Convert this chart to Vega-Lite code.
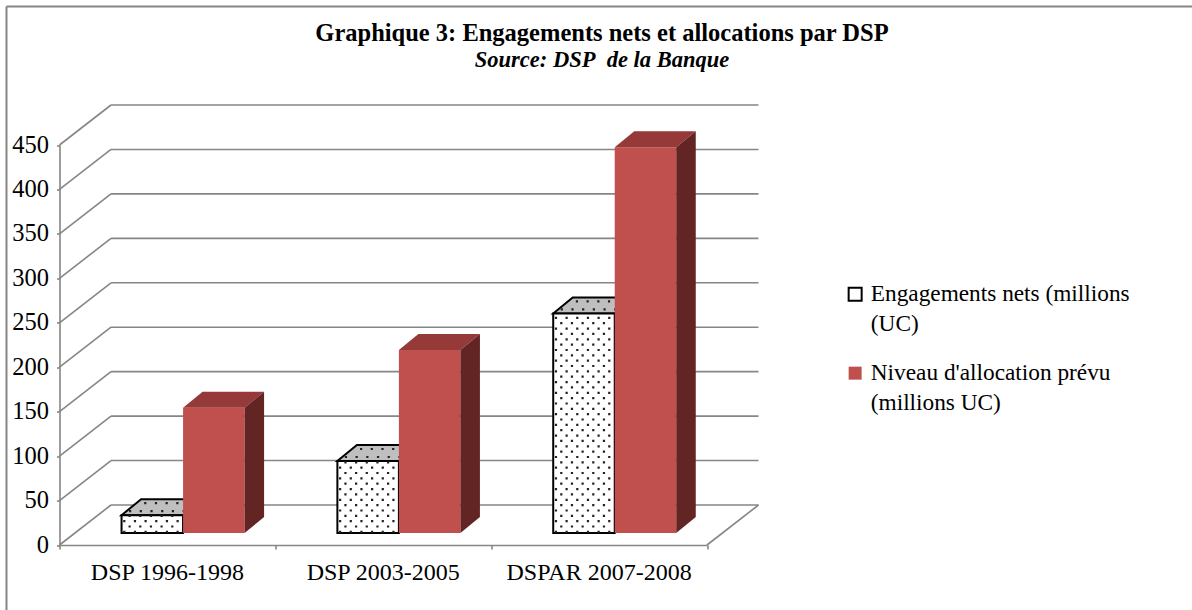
{
"$schema":"https://vega.github.io/schema/vega-lite/v6.json",
"width":1184,"height":600,
"autosize":{"type":"none"},
"padding":{"left":6.5,"top":6.5,"right":1.5,"bottom":3.5},
"background":"white",
"view":{"stroke":null,"fill":"white"},
"title":{"text":"Graphique 3: Engagements nets et allocations par DSP","subtitle":"Source: DSP\u00a0 de la Banque","anchor":"middle","frame":"group","dx":3.5,"offset":-67,"font":"Liberation Serif","fontSize":24.5,"fontWeight":"bold","color":"black","subtitleFont":"Liberation Serif","subtitleFontSize":22.5,"subtitleFontWeight":"bold","subtitleFontStyle":"italic","subtitleColor":"black","subtitlePadding":3},
"datasets":{
"barres":[
{"dsp":"DSP 1996-1998","serie":"Engagements nets (millions (UC)","valeur":20},
{"dsp":"DSP 1996-1998","serie":"Niveau d'allocation prévu (millions UC)","valeur":141},
{"dsp":"DSP 2003-2005","serie":"Engagements nets (millions (UC)","valeur":81},
{"dsp":"DSP 2003-2005","serie":"Niveau d'allocation prévu (millions UC)","valeur":206},
{"dsp":"DSPAR 2007-2008","serie":"Engagements nets (millions (UC)","valeur":247},
{"dsp":"DSPAR 2007-2008","serie":"Niveau d'allocation prévu (millions UC)","valeur":434}],
"graduations":[{"g":0},{"g":50},{"g":100},{"g":150},{"g":200},{"g":250},{"g":300},{"g":350},{"g":400},{"g":450}]
},
"data":{"name":"barres"},
"transform":[
{"calculate":"indexof(['DSP 1996-1998','DSP 2003-2005','DSPAR 2007-2008'],datum.dsp)","as":"rang"},
{"calculate":"datum.rang+0.2875+(datum.serie[0]=='N'?0.285:0)","as":"gauche"},
{"calculate":"datum.gauche+0.285","as":"droite"},
{"calculate":"datum.valeur+13.5","as":"haut"},
{"calculate":"13.5","as":"bas"}
],
"layer":[
{"data":{"name":"graduations"},"mark":{"type":"rule","color":"#868686","strokeWidth":1.6,"x2Offset":51.5,"y2Offset":-40},
 "encoding":{"x":{"datum":0,"type":"quantitative","scale":{"domain":[0,3],"range":[53,700.5],"nice":false,"zero":false},"axis":{"values":[0,1,2,3],"labels":false,"title":null,"grid":false,"tickSize":4,"tickColor":"#868686","tickWidth":1.6,"domainColor":"#868686","domainWidth":1.6,"offset":-61.5}},"x2":{"datum":0},
 "y":{"field":"g","type":"quantitative","scale":{"domain":[0,450],"range":[538.5,138.5],"nice":false,"zero":false},"axis":{"values":[0,50,100,150,200,250,300,350,400,450],"title":null,"grid":false,"tickSize":3,"tickColor":"#868686","tickWidth":1.6,"domainColor":"#868686","domainWidth":1.6,"offset":-53,"labelFont":"Liberation Serif","labelFontSize":24.5,"labelColor":"black","labelPadding":8}},"y2":{"field":"g"}}},
{"data":{"name":"graduations"},"transform":[{"filter":"datum.g==0"}],"mark":{"type":"rule","color":"#868686","strokeWidth":2},
 "encoding":{"x":{"datum":-0.2456,"type":"quantitative"},"y":{"datum":-75,"type":"quantitative"},"y2":{"datum":605.8}}},
{"data":{"name":"graduations"},"transform":[{"filter":"datum.g==0"}],"mark":{"type":"rule","color":"#868686","strokeWidth":2},
 "encoding":{"x":{"datum":-0.2456,"type":"quantitative"},"x2":{"datum":5.3},"y":{"datum":605.8,"type":"quantitative"}}},
{"data":{"name":"graduations"},"transform":[{"filter":"datum.g==0"}],"mark":{"type":"rule","color":"#868686","strokeWidth":1.6,"x2Offset":51.5,"y2Offset":-40},
 "encoding":{"x":{"datum":3,"type":"quantitative"},"x2":{"datum":3},"y":{"field":"g","type":"quantitative"},"y2":{"field":"g"}}},
{"data":{"name":"graduations"},"mark":{"type":"rule","color":"#868686","strokeWidth":1.6,"xOffset":51.5,"x2Offset":51.5,"yOffset":-40},
 "encoding":{"x":{"datum":0,"type":"quantitative"},"x2":{"datum":3},"y":{"field":"g","type":"quantitative"}}},
{"transform":[{"filter":"datum.serie[0]=='E'"},{"calculate":"[0,1]","as":"prof"},{"flatten":["prof"]},{"calculate":"datum.gauche+datum.prof*0.0904","as":"xa"},{"calculate":"datum.droite+datum.prof*0.0904","as":"xb"},{"calculate":"datum.haut+datum.prof*18","as":"yh"}],
 "mark":{"type":"area","orient":"horizontal","fill":"#BFBFBF","stroke":"black","strokeWidth":2},
 "encoding":{"x":{"field":"xa","type":"quantitative"},"x2":{"field":"xb"},"y":{"field":"yh","type":"quantitative"},"detail":{"field":"dsp"}}},
{"transform":[{"filter":"datum.serie[0]=='E'"},{"calculate":"[0.25,0.75]","as":"prof"},{"flatten":["prof"]},{"calculate":"datum.gauche+datum.prof*0.0904+0.012+(datum.prof>0.5?0.025:0)","as":"xa"},{"calculate":"datum.droite+datum.prof*0.0904","as":"xb"},{"calculate":"datum.haut+datum.prof*18","as":"yh"}],
 "mark":{"type":"rule","color":"#222222","strokeWidth":2.2,"strokeDash":[2.2,8.5]},
 "encoding":{"x":{"field":"xa","type":"quantitative"},"x2":{"field":"xb"},"y":{"field":"yh","type":"quantitative"}}},
{"mark":{"type":"rect","strokeWidth":2},
 "encoding":{"x":{"field":"gauche","type":"quantitative"},"x2":{"field":"droite"},"y":{"field":"haut","type":"quantitative"},"y2":{"field":"bas"},
 "fill":{"field":"serie","type":"nominal","scale":{"domain":["Engagements nets (millions (UC)","Niveau d'allocation prévu (millions UC)"],"range":["white","#C0504D"]},"legend":{"title":null,"orient":"none","legendX":837,"legendY":276,"symbolType":"square","symbolSize":169,"symbolStrokeWidth":2,"labelFont":"Liberation Serif","labelFontSize":23.3,"labelColor":"black","labelBaseline":"top","labelOffset":4,"rowPadding":25,"labelLimit":400,"labelExpr":"datum.label[0]=='E'?['Engagements nets (millions','(UC)']:['Niveau d\\'allocation prévu','(millions UC)']","encoding":{"labels":{"lineHeight":{"value":30},"dy":{"value":-11}}}}},
 "stroke":{"field":"serie","type":"nominal","scale":{"domain":["Engagements nets (millions (UC)","Niveau d'allocation prévu (millions UC)"],"range":["black","transparent"]}}}},
{"transform":[{"filter":"datum.serie[0]=='E'"},{"calculate":"[1,3,5,7,9,11]","as":"k"},{"flatten":["k"]},{"calculate":"datum.gauche+datum.k*0.0247-0.012","as":"xa"}],
 "mark":{"type":"rule","color":"#222222","strokeWidth":2.2,"strokeDash":[2.2,8.5]},
 "encoding":{"x":{"field":"xa","type":"quantitative"},"y":{"field":"bas","type":"quantitative"},"y2":{"field":"haut"}}},
{"transform":[{"filter":"datum.serie[0]=='E'"},{"calculate":"[2,4,6,8,10]","as":"k"},{"flatten":["k"]},{"calculate":"datum.gauche+datum.k*0.0247-0.012","as":"xa"}],
 "mark":{"type":"rule","color":"#222222","strokeWidth":2.2,"strokeDash":[2.2,8.5],"strokeDashOffset":5.3},
 "encoding":{"x":{"field":"xa","type":"quantitative"},"y":{"field":"bas","type":"quantitative"},"y2":{"field":"haut"}}},
{"transform":[{"filter":"datum.serie[0]=='N'"},{"calculate":"[0,1]","as":"prof"},{"flatten":["prof"]},{"calculate":"datum.gauche+datum.prof*0.0904","as":"xa"},{"calculate":"datum.droite+datum.prof*0.0904","as":"xb"},{"calculate":"datum.haut+datum.prof*18","as":"yh"}],
 "mark":{"type":"area","orient":"horizontal","fill":"#953A38"},
 "encoding":{"x":{"field":"xa","type":"quantitative"},"x2":{"field":"xb"},"y":{"field":"yh","type":"quantitative"},"detail":{"field":"dsp"}}},
{"transform":[{"filter":"datum.serie[0]=='N'"},{"calculate":"[0,1]","as":"prof"},{"flatten":["prof"]},{"calculate":"datum.droite+datum.prof*0.0904","as":"xa"},{"calculate":"datum.haut+datum.prof*18","as":"yh"},{"calculate":"datum.bas+datum.prof*18","as":"yb"}],
 "mark":{"type":"area","fill":"#632523"},
 "encoding":{"x":{"field":"xa","type":"quantitative"},"y":{"field":"yh","type":"quantitative"},"y2":{"field":"yb"},"detail":{"field":"dsp"}}},
{"transform":[{"filter":"datum.serie[0]=='E'"},{"calculate":"datum.rang+0.5","as":"xc"}],
 "mark":{"type":"text","font":"Liberation Serif","fontSize":24,"color":"black","baseline":"middle","align":"center","dy":28},
 "encoding":{"x":{"field":"xc","type":"quantitative"},"y":{"datum":0,"type":"quantitative"},"text":{"field":"dsp"}}}
]
}
